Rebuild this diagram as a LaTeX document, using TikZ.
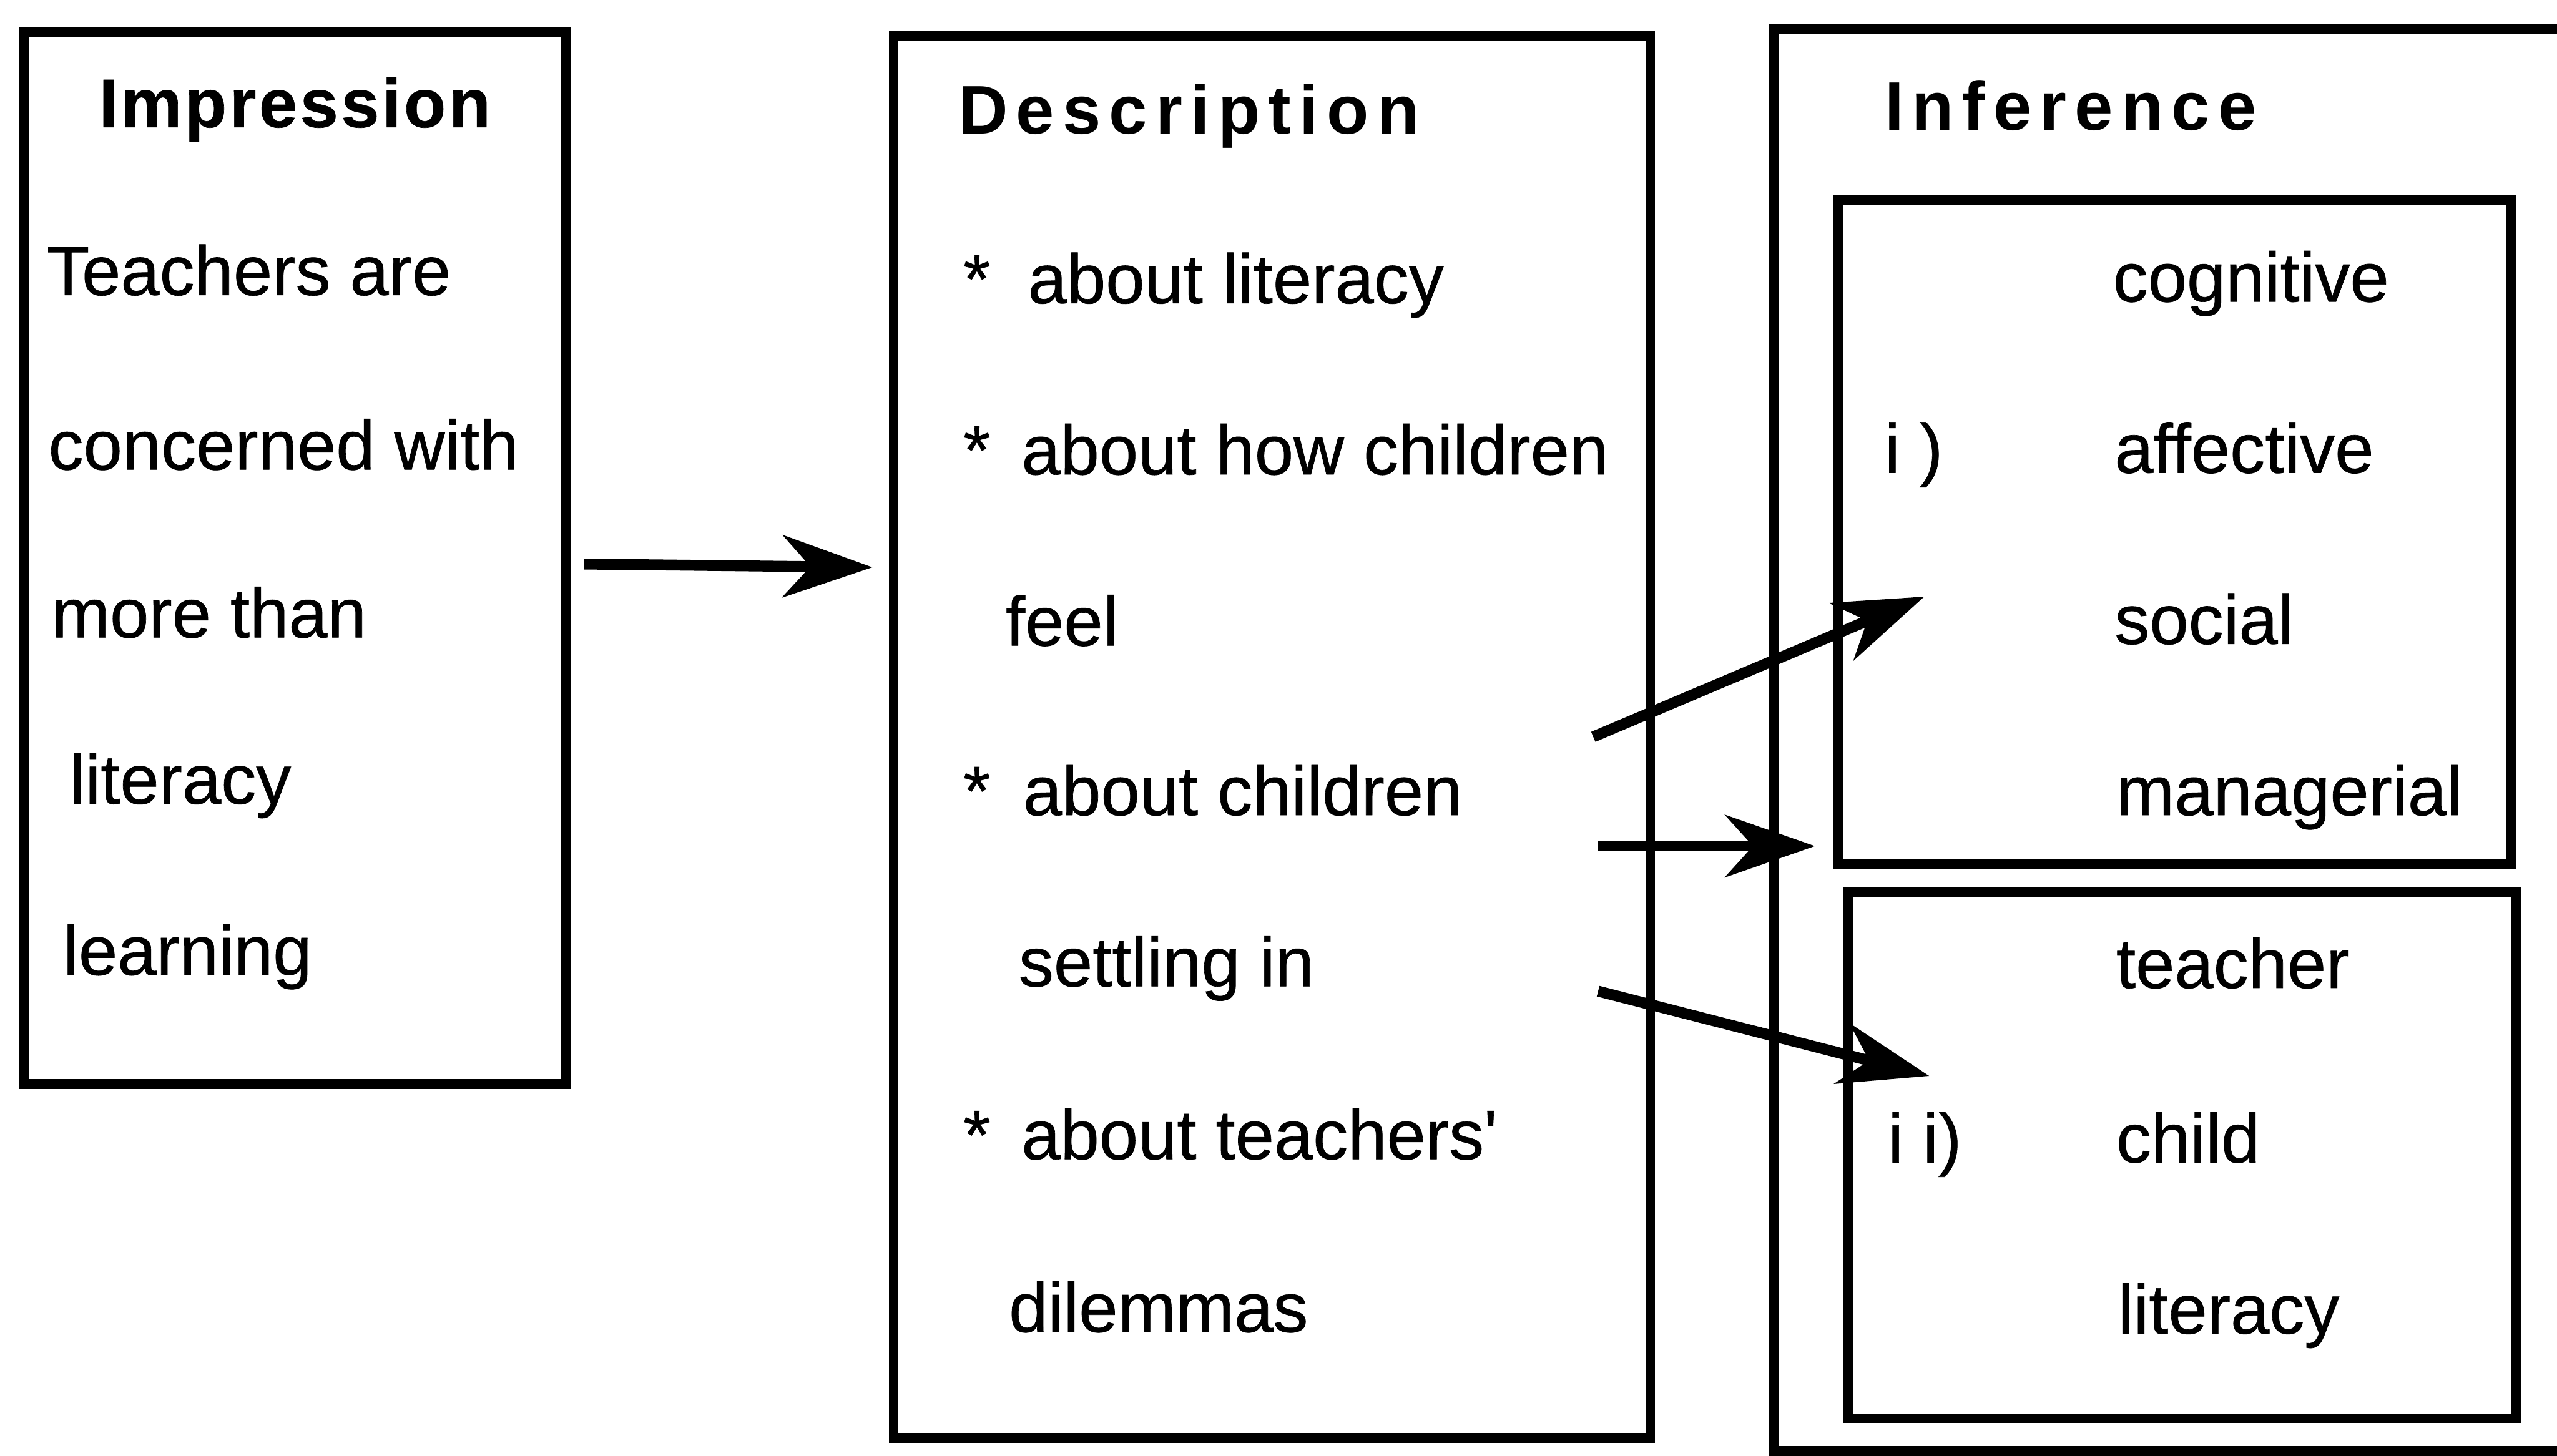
\documentclass[tikz,border=0pt]{standalone}
\usepackage{fontspec}
\setmainfont[FakeBold=0.6]{Liberation Sans}
\newfontfamily\spacedfont[LetterSpace=12]{Liberation Sans}
\usetikzlibrary{arrows.meta}

\tikzset{
  box/.style={line width=1.7pt},
  txt/.style={anchor=base west, inner sep=0pt, font=\fontsize{12.2}{14}\selectfont},
  head/.style={anchor=base west, inner sep=0pt, font=\fontsize{12}{14}\selectfont\spacedfont\bfseries},
  link/.style={line width=1.9pt, -{Stealth[length=5.5mm,width=3.8mm,inset=1.7mm]}}
}

\begin{document}
\begin{tikzpicture}
\useasboundingbox (0, 0) rectangle (15.68, 8.93);

% the three boxes
\draw[box] (0.15, 8.73) rectangle (3.47, 2.28);
\draw[box] (5.48, 8.71) rectangle (10.12, 0.11);
\draw[box] (10.88, 0.03) rectangle (16.3, 8.75);
\draw[box] (11.27, 7.70) rectangle (15.40, 3.63);
\draw[box] (11.33, 3.46) rectangle (15.43, 0.23);

% impression
\node[head, font=\fontsize{12}{14}\selectfont\bfseries\addfontfeatures{LetterSpace=4}] (imp) at (0.60, 8.15) {Impression};
\node[txt] (imp1) at (0.28, 7.12) {Teachers are};
\node[txt] (imp2) at (0.29, 6.05) {concerned with};
\node[txt] (imp3) at (0.31, 5.02) {more than};
\node[txt] (imp4) at (0.42, 4.00) {literacy};
\node[txt] (imp5) at (0.38, 2.95) {learning};

% description
\node[head] (desc) at (5.87, 8.11) {Description};
\node[txt] (desc1) at (5.90, 7.07) {*\hspace{2.3mm}about literacy};
\node[txt] (desc2) at (5.90, 6.02) {*\hspace{1.9mm}about how children};
\node[txt] (desc3) at (6.16, 4.97) {feel};
\node[txt] (desc4) at (5.90, 3.93) {*\hspace{2.0mm}about children};
\node[txt] (desc5) at (6.24, 2.88) {settling in};
\node[txt] (desc6) at (5.90, 1.82) {*\hspace{1.9mm}about teachers\textquotesingle};
\node[txt] (desc7) at (6.18, 0.76) {dilemmas};

% inference
\node[head] (inf) at (11.55, 8.13) {Inference};
\node[txt] (cog) at (12.95, 7.08) {cognitive};
\node[txt] (one) at (11.55, 6.03) {i )};
\node[txt] (aff) at (12.96, 6.03) {affective};
\node[txt] (soc) at (12.96, 4.98) {social};
\node[txt] (man) at (12.97, 3.93) {managerial};
\node[txt] (tea) at (12.97, 2.87) {teacher};
\node[txt] (two) at (11.57, 1.80) {i i)};
\node[txt] (chi) at (12.97, 1.80) {child};
\node[txt] (lit) at (12.98, 0.75) {literacy};

% arrows
\coordinate (impout) at (3.58, 5.47);
\coordinate (descin) at (5.35, 5.45);
\coordinate (outa) at (9.77, 4.41);
\coordinate (ina) at (11.80, 5.27);
\coordinate (outb) at (9.80, 3.74);
\coordinate (inb) at (11.13, 3.74);
\coordinate (outc) at (9.80, 2.85);
\coordinate (inc) at (11.83, 2.33);
\draw[link] (impout) -- (descin);
\draw[link] (outa) -- (ina);
\draw[link] (outb) -- (inb);
\draw[link] (outc) -- (inc);
\end{tikzpicture}
\end{document}
